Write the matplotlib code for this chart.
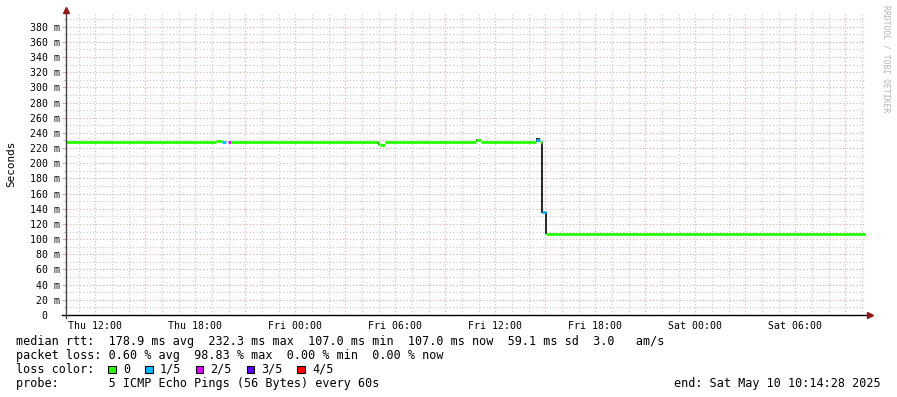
import numpy as np
import pandas as pd
import matplotlib
matplotlib.use("Agg")
import matplotlib.pyplot as plt
from matplotlib.patches import Rectangle
from matplotlib.ticker import FixedLocator, MultipleLocator

# ---------- data ----------
end_time = pd.Timestamp("2025-05-10 10:14:28")
span_h = 48.0
start_time = end_time - pd.Timedelta(hours=span_h)

# median rtt steps: hours since start, value in ms, loss index (0..4 -> 0, 1/5 .. 4/5)
seg_start_h = [0.00, 8.16, 9.00, 9.36, 9.72, 9.90, 18.72, 18.84, 19.14, 24.60, 24.90, 28.20, 28.44, 28.56, 28.80]
seg_end_h = [8.16, 9.00, 9.36, 9.60, 9.90, 18.72, 18.84, 19.14, 24.60, 24.90, 28.20, 28.44, 28.56, 28.80, 48.00]
median_ms = [227.6, 228.2, 229.6, 228.4, 227.6, 227.8, 226.0, 224.6, 227.8, 230.0, 227.8, 231.2, 227.8, 135.5, 107.0]
loss_idx = [0, 0, 0, 1, 2, 0, 0, 0, 0, 0, 0, 1, 0, 1, 0]

# smoke (min..max spread), mostly hidden under the median
smoke_start_h = [18.70, 24.60, 28.22, 28.51, 28.75]
smoke_end_h = [18.76, 24.72, 28.46, 28.59, 28.83]
smoke_lo = [224.0, 229.0, 228.0, 135.0, 107.0]
smoke_hi = [228.5, 231.8, 233.0, 228.5, 136.0]

loss_labels = ["0", "1/5", "2/5", "3/5", "4/5"]
loss_colors = ["#26ff00", "#00b8ff", "#dd00ff", "#5e00ff", "#ff0000"]

x_tick_labels = ["Thu 12:00", "Thu 18:00", "Fri 00:00", "Fri 06:00",
                 "Fri 12:00", "Fri 18:00", "Sat 00:00", "Sat 06:00"]
x_tick_times = ["2025-05-08 12:00", "2025-05-08 18:00", "2025-05-09 00:00", "2025-05-09 06:00",
                "2025-05-09 12:00", "2025-05-09 18:00", "2025-05-10 00:00", "2025-05-10 06:00"]
y_ticks = list(range(0, 381, 20))

legend_lines = [
    "median rtt:  178.9 ms avg  232.3 ms max  107.0 ms min  107.0 ms now  59.1 ms sd  3.0   am/s",
    "packet loss: 0.60 % avg  98.83 % max  0.00 % min  0.00 % now",
    "loss color:",
    "probe:       5 ICMP Echo Pings (56 Bytes) every 60s",
]
end_label = "end: Sat May 10 10:14:28 2025"

# ---------- figure ----------
W, H = 897, 397
plt.rcParams["font.family"] = "DejaVu Sans Mono"

def fx(x): return x / W
def fy(y): return 1 - y / H

fig = plt.figure(figsize=(W / 100, H / 100), dpi=100)
L, R, T, B = 66, 866, 13, 315
ax = fig.add_axes([fx(L), fy(B), (R - L) / W, (B - T) / H])
ax.set_xlim(0, span_h)
ax.set_ylim(0, 398)

MGRID = "#e3a9a9"
GRID = "#c8c8c8"

# ticks & grid: labels every 6h, red grid every 3h, grey grid every hour
label_h = [(pd.Timestamp(t) - start_time) / pd.Timedelta(hours=1) for t in x_tick_times]
major_h = [h for h in np.arange(label_h[0] - 3, span_h, 3) if h >= 0]
minor_h = np.arange(label_h[0] % 1, span_h, 1)
major_lab = []
for h in major_h:
    hit = [lab for lab, v in zip(x_tick_labels, label_h) if abs(v - h) < 1e-6]
    major_lab.append(hit[0] if hit else "")
ax.xaxis.set_major_locator(FixedLocator(major_h))
ax.xaxis.set_minor_locator(FixedLocator(minor_h))
ax.set_xticklabels(major_lab)
ax.yaxis.set_major_locator(FixedLocator(y_ticks))
ax.yaxis.set_minor_locator(MultipleLocator(10))
ax.set_yticklabels(["0  " if v == 0 else f"{v} m" for v in y_ticks])

ax.grid(which="major", color=MGRID, linestyle=(0, (1, 2)), linewidth=0.8)
ax.grid(which="minor", color=GRID, linestyle=(0, (1, 2)), linewidth=0.8)
ax.tick_params(which="major", length=3, width=0.8, color=MGRID, labelsize=7.1, pad=1.5)
ax.tick_params(which="minor", length=2, width=0.8, color=GRID)
ax.tick_params(axis="x", which="both", length=0)
ax.tick_params(axis="x", which="major", pad=4)
for s in ax.spines.values():
    s.set_visible(False)

# axis lines with arrows
ax.plot([-0.005, 1.005], [0, 0], transform=ax.transAxes, color="#000000", lw=1.0, clip_on=False, zorder=5)
ax.plot([0, 0], [-0.01, 1.0], transform=ax.transAxes, color="#444444", lw=1.0, clip_on=False, zorder=5)
ax.plot([1.005], [0], marker=">", transform=ax.transAxes, color="#8b1a1a", ms=4, clip_on=False, zorder=6)
ax.plot([0], [1.01], marker="^", transform=ax.transAxes, color="#8b1a1a", ms=4, clip_on=False, zorder=6)

# smoke
ax.bar(smoke_start_h, np.subtract(smoke_hi, smoke_lo), bottom=smoke_lo,
       width=np.subtract(smoke_end_h, smoke_start_h), align="edge",
       color="#2b2b2b", linewidth=0, zorder=3)

# median rtt coloured by loss
ax.hlines(median_ms, seg_start_h, seg_end_h, colors=[loss_colors[i] for i in loss_idx],
          linewidth=2.0, capstyle="butt", zorder=4)

# text around the plot
fig.text(fx(11), fy(164), "Seconds", rotation=90, ha="center", va="center", fontsize=7.9)
fig.text(fx(886), fy(59), "RRDTOOL / TOBI OETIKER", rotation=270, ha="center", va="center",
         fontsize=5.9, color="#b4b4b4")

rows_y = [341.7, 355.2, 369.2, 383.2]
for txt, y in zip(legend_lines, rows_y):
    fig.text(fx(16), fy(y), txt, ha="left", va="center", fontsize=8.45)
fig.text(fx(880.5), fy(rows_y[3]), end_label, ha="right", va="center", fontsize=8.45)

box_x = [108.3, 145.2, 195.8, 246.7, 297.3]
for bx, lab, col in zip(box_x, loss_labels, loss_colors):
    fig.patches.append(Rectangle((fx(bx), fy(rows_y[2] + 3.6)), 7.3 / W, 7.3 / H,
                                 transform=fig.transFigure, facecolor=col,
                                 edgecolor="#000000", linewidth=0.8))
    fig.text(fx(bx + 14.7), fy(rows_y[2]), lab, ha="left", va="center", fontsize=8.45)

fig.savefig("out.png", dpi=100, facecolor="white")
